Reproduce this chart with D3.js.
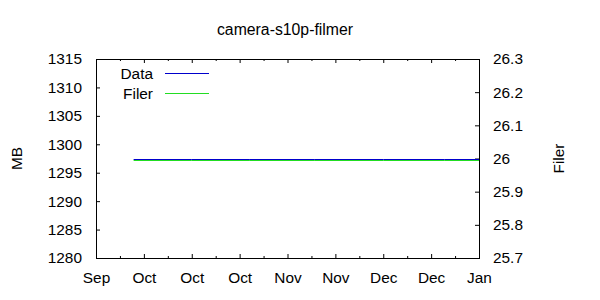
<!DOCTYPE html>
<html>
<head>
<meta charset="utf-8">
<script src="https://cdn.jsdelivr.net/npm/d3@7"></script>
<style>
  body { margin: 0; background: #fff; }
  svg { font-family: "Liberation Sans", Arial, sans-serif; }
  text { fill: #000; }
</style>
</head>
<body>
<svg id="chart" width="600" height="300"></svg>
<script>
// chart values
const chartTitle = "camera-s10p-filmer";
const dates = ["2019-09-28", "2019-10-15", "2019-11-01", "2019-11-20", "2019-12-10", "2019-12-28", "2020-01-07"];
const dataMB = [1297.4, 1297.4, 1297.4, 1297.4, 1297.4, 1297.4, 1297.4];
const filerValues = [25.995, 25.995, 25.995, 25.995, 25.995, 25.995, 25.995];
const xDomain = ["2019-09-17", "2020-01-07"];
const yTicks = [1280, 1285, 1290, 1295, 1300, 1305, 1310, 1315];
const y2Ticks = [25.7, 25.8, 25.9, 26.0, 26.1, 26.2, 26.3];
const seriesNames = ["Data", "Filer"];
const seriesColors = ["#0000cc", "#22dd22"];

const fontSize = 15.4;
const parse = d3.timeParse("%Y-%m-%d");
const svg = d3.select("#chart");
const margin = { top: 59, right: 121, bottom: 42, left: 96 };
const width = 600 - margin.left - margin.right;
const height = 300 - margin.top - margin.bottom;

const x = d3.scaleTime()
    .domain(xDomain.map(parse))
    .range([margin.left, margin.left + width]);
const y = d3.scaleLinear()
    .domain([1280, 1315])
    .range([margin.top + height, margin.top]);
const y2 = d3.scaleLinear()
    .domain([25.7, 26.3])
    .range([margin.top + height, margin.top]);

// x ticks every two weeks, minor ticks in between
const start = parse(xDomain[0]);
const majorDates = d3.range(9).map(i => d3.timeDay.offset(start, i * 14));
const minorDates = d3.range(8).map(i => d3.timeDay.offset(start, i * 14 + 7));

const g = svg.append("g");

// bottom axis
g.append("g")
    .attr("transform", `translate(0,${margin.top + height})`)
    .call(d3.axisBottom(x).tickValues(majorDates).tickFormat(d3.timeFormat("%b")).tickSizeInner(-4).tickSizeOuter(0))
    .call(a => a.select(".domain").remove())
    .call(a => a.selectAll("text").attr("dy", null).attr("y", 25));
g.append("g")
    .attr("transform", `translate(0,${margin.top + height})`)
    .call(d3.axisBottom(x).tickValues(minorDates).tickFormat("").tickSizeInner(-2).tickSizeOuter(0))
    .call(a => a.select(".domain").remove());

// top mirrored ticks
g.append("g")
    .attr("transform", `translate(0,${margin.top})`)
    .call(d3.axisTop(x).tickValues(majorDates).tickFormat("").tickSizeInner(-4).tickSizeOuter(0))
    .call(a => a.select(".domain").remove());
g.append("g")
    .attr("transform", `translate(0,${margin.top})`)
    .call(d3.axisTop(x).tickValues(minorDates).tickFormat("").tickSizeInner(-2).tickSizeOuter(0))
    .call(a => a.select(".domain").remove());

// left axis
g.append("g")
    .attr("transform", `translate(${margin.left},0)`)
    .call(d3.axisLeft(y).tickValues(yTicks).tickFormat(d3.format("d")).tickSizeInner(-4).tickSizeOuter(0))
    .call(a => a.select(".domain").remove())
    .call(a => a.selectAll("text").attr("x", -14));

// right axis
g.append("g")
    .attr("transform", `translate(${margin.left + width},0)`)
    .call(d3.axisRight(y2).tickValues(y2Ticks).tickFormat(d => d3.format("")(+d.toFixed(1))).tickSizeInner(-4).tickSizeOuter(0))
    .call(a => a.select(".domain").remove())
    .call(a => a.selectAll("text").attr("x", 14));

g.selectAll("text").attr("font-size", fontSize).attr("font-family", "Liberation Sans");
g.selectAll(".tick line").attr("stroke", "#000");

// frame
svg.append("rect")
    .attr("x", margin.left + 0.5)
    .attr("y", margin.top + 0.5)
    .attr("width", width)
    .attr("height", height)
    .attr("fill", "none")
    .attr("stroke", "#000");

// series
const rows = dates.map((d, i) => ({ date: parse(d), mb: dataMB[i], filer: filerValues[i] }));

svg.append("path")
    .datum(rows)
    .attr("fill", "none")
    .attr("stroke", seriesColors[1])
    .attr("stroke-width", 1)
    .attr("d", d3.line().x(d => x(d.date)).y(d => Math.round(y2(d.filer)) + 0.5));

svg.append("path")
    .datum(rows)
    .attr("fill", "none")
    .attr("stroke", seriesColors[0])
    .attr("stroke-width", 1)
    .attr("d", d3.line().x(d => x(d.date)).y(d => Math.round(y(d.mb)) + 0.5));

// legend
const legend = svg.append("g");
seriesNames.forEach((name, i) => {
    const ly = 73.5 + i * 20;
    legend.append("text")
        .attr("x", 153)
        .attr("y", ly)
        .attr("dy", "0.35em")
        .attr("text-anchor", "end")
        .attr("font-size", fontSize)
        .text(name);
    legend.append("line")
        .attr("x1", 165).attr("x2", 209)
        .attr("y1", ly).attr("y2", ly)
        .attr("stroke", seriesColors[i]);
});

// title and axis labels
svg.append("text")
    .attr("x", 285)
    .attr("y", 35)
    .attr("text-anchor", "middle")
    .attr("font-size", 15.8)
    .text(chartTitle);

svg.append("text")
    .attr("transform", `translate(22,${margin.top + height / 2}) rotate(-90)`)
    .attr("text-anchor", "middle")
    .attr("font-size", fontSize)
    .text("MB");

svg.append("text")
    .attr("transform", `translate(564,${margin.top + height / 2}) rotate(-90)`)
    .attr("text-anchor", "middle")
    .attr("font-size", fontSize)
    .text("Filer");
</script>
</body>
</html>
